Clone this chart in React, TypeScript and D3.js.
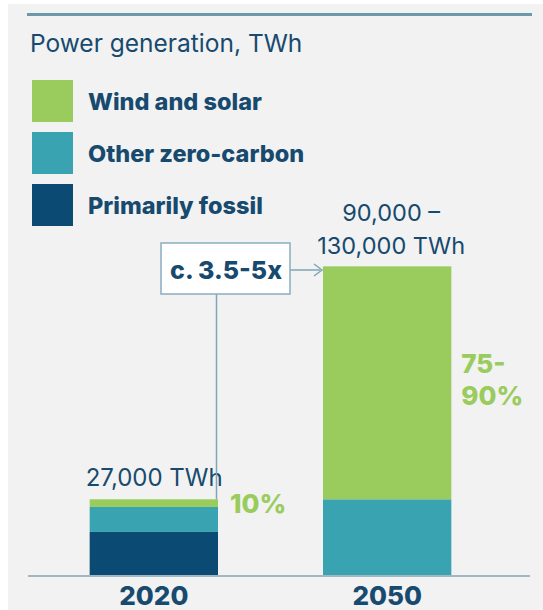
import * as d3 from "d3";
import { useEffect, useRef } from "react";

const years = ["2020", "2050"];
const seriesNames = ["Primarily fossil", "Other zero-carbon", "Wind and solar"];
const fossil = [15500, 0];
const otherZero = [8800, 27000];
const windSolar = [2700, 82000];
const totalLabels = [["27,000 TWh"], ["90,000 –", "130,000 TWh"]];
const shareLabels = [["10%"], ["75-", "90%"]];
const multiplierLabel = "c. 3.5-5x";
const title = "Power generation, TWh";

const colors: Record<string, string> = {
  "Primarily fossil": "#0b4a72",
  "Other zero-carbon": "#3aa3b2",
  "Wind and solar": "#99cc5c",
};
const textColor = "#174a6e";
const font = "Inter, 'Noto Sans', sans-serif";

export default function App() {
  const ref = useRef<SVGSVGElement>(null);

  useEffect(() => {
    const svg = d3.select(ref.current);
    svg.selectAll("*").remove();

    const W = 543;
    const H = 610;
    svg.append("rect").attr("x", 8).attr("y", 4).attr("width", W).attr("height", H).attr("fill", "#f2f2f2");

    // top rule
    svg.append("line").attr("x1", 27).attr("x2", 532).attr("y1", 14.5).attr("y2", 14.5)
      .attr("stroke", "#6c98a9").attr("stroke-width", 3);

    svg.append("text").attr("x", 30).attr("y", 52).text(title)
      .attr("font-family", font).attr("font-size", 24.5).attr("fill", textColor);

    // legend (top to bottom: wind, other, fossil)
    const legendOrder = [...seriesNames].reverse();
    legendOrder.forEach((name, i) => {
      const y0 = 80 + i * 52;
      svg.append("rect").attr("x", 32).attr("y", y0).attr("width", 41).attr("height", 42).attr("fill", colors[name]);
      svg.append("text").attr("x", 88).attr("y", y0 + 30).text(name)
        .attr("font-family", font).attr("font-size", 23.5).attr("font-weight", 800).attr("fill", textColor);
    });

    const x = d3.scaleBand().domain(years).range([57, 484]).paddingInner(0.45).paddingOuter(0.14);
    const y = d3.scaleLinear().domain([0, 110000]).range([576, 576 - 312.5]);

    const rows = years.map((yr, i) => ({
      year: yr,
      "Primarily fossil": fossil[i],
      "Other zero-carbon": otherZero[i],
      "Wind and solar": windSolar[i],
    }));
    const stack = d3.stack<any>().keys(seriesNames)(rows);

    svg.append("g").selectAll("g").data(stack).join("g")
      .attr("fill", (d) => colors[d.key])
      .selectAll("rect").data((d) => d).join("rect")
      .attr("x", (d) => x(d.data.year)!)
      .attr("width", x.bandwidth())
      .attr("y", (d) => y(d[1]))
      .attr("height", (d) => y(d[0]) - y(d[1]));

    // axis line
    svg.append("line").attr("x1", 28).attr("x2", 530).attr("y1", 576).attr("y2", 576)
      .attr("stroke", "#9fb8c4").attr("stroke-width", 2);

    years.forEach((yr) => {
      svg.append("text").attr("x", x(yr)! + x.bandwidth() / 2).attr("y", 605).text(yr)
        .attr("text-anchor", "middle").attr("font-family", font).attr("font-size", 26)
        .attr("font-weight", 800).attr("fill", textColor);
    });

    const totals = years.map((_, i) => fossil[i] + otherZero[i] + windSolar[i]);

    // total labels
    svg.append("text").attr("x", x("2020")! - 4).attr("y", y(totals[0]) - 13).text(totalLabels[0][0])
      .attr("font-family", font).attr("font-size", 24).attr("fill", textColor);
    totalLabels[1].forEach((t, j) => {
      svg.append("text").attr("x", x("2050")! + x.bandwidth() / 2 + 4).attr("y", y(totals[1]) - 45 + j * 33).text(t)
        .attr("text-anchor", "middle").attr("font-family", font).attr("font-size", 23.5).attr("fill", textColor);
    });

    // share labels
    svg.append("text").attr("x", x("2020")! + x.bandwidth() + 12).attr("y", y(totals[0]) + 14).text(shareLabels[0][0])
      .attr("font-family", font).attr("font-size", 26).attr("font-weight", 800).attr("fill", "#99cc5c");
    shareLabels[1].forEach((t, j) => {
      svg.append("text").attr("x", x("2050")! + x.bandwidth() + 10).attr("y", 373 + j * 32).text(t)
        .attr("font-family", font).attr("font-size", 26).attr("font-weight", 800).attr("fill", "#99cc5c");
    });

    // connector: vertical line from 2020 top to box, arrow to 2050 bar
    const lineX = x("2020")! + x.bandwidth() - 1.5;
    const boxX = 161, boxY = 243, boxW = 129, boxH = 51;
    const arrowY = 270;
    const conn = "#7fa5b6";
    svg.append("line").attr("x1", lineX).attr("x2", lineX).attr("y1", boxY + boxH).attr("y2", y(totals[0]))
      .attr("stroke", conn).attr("stroke-width", 1.5);
    svg.append("line").attr("x1", boxX + boxW).attr("x2", x("2050")! - 3).attr("y1", arrowY).attr("y2", arrowY)
      .attr("stroke", conn).attr("stroke-width", 1.5);
    const tip = x("2050")! - 1;
    svg.append("path").attr("d", `M${tip - 8},${arrowY - 6} L${tip},${arrowY} L${tip - 8},${arrowY + 6}`)
      .attr("fill", "none").attr("stroke", conn).attr("stroke-width", 1.5);
    svg.append("rect").attr("x", boxX).attr("y", boxY).attr("width", boxW).attr("height", boxH)
      .attr("fill", "#ffffff").attr("stroke", "#8aaebf").attr("stroke-width", 1.5);
    svg.append("text").attr("x", boxX + boxW - 8).attr("y", boxY + 36).text(multiplierLabel)
      .attr("text-anchor", "end").attr("font-family", font).attr("font-size", 25)
      .attr("font-weight", 800).attr("fill", textColor);
  }, []);

  return <svg ref={ref} width={543} height={610} style={{ position: "absolute", left: 0, top: 0 }} />;
}
